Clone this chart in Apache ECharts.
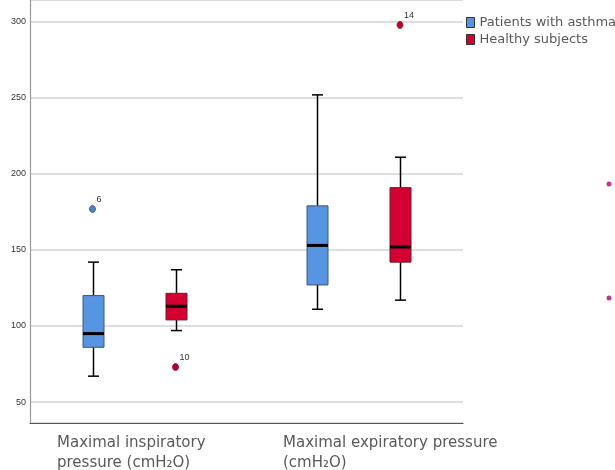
<!DOCTYPE html>
<html>
<head>
<meta charset="utf-8">
<script src="https://cdn.jsdelivr.net/npm/echarts@6/dist/echarts.min.js"></script>
<style>html,body{margin:0;padding:0;background:#fff;}#chart{width:615px;height:470px;}</style>
</head>
<body>
<div id="chart"></div>
<script>
// ---- data ----
const categories = ['Maximal inspiratory\npressure (cmH\u2082O)', 'Maximal expiratory pressure\n(cmH\u2082O)'];
const seriesNames = ['Patients with asthma', 'Healthy subjects'];
// [min, Q1, median, Q3, max]
const asthmaBoxes = [[67, 86, 95, 120, 142], [111, 127, 153, 179, 252]];
const healthyBoxes = [[97, 104, 113, 121.5, 137], [117, 142, 152, 191, 211]];
// [category index, value, case label]
const asthmaOutliers = [[0, 177, '6']];
const healthyOutliers = [[0, 73, '10'], [1, 298, '14']];
const yTicks = [50, 100, 150, 200, 250, 300];

// ---- styles ----
const BOX_W = 21, CAP_W = 11, OFFSET = 41.5;
const colors = {
  asthma: { fill: '#5794e2', border: '#3d5877', outFill: '#4a82cc', outBorder: '#2d4f80' },
  healthy: { fill: '#d40032', border: '#6e1a28', outFill: '#b8002d', outBorder: '#7a1025' }
};

function boxRenderer(offset, c) {
  return function (params, api) {
    const x = api.value(0);
    const lo = api.coord([x, api.value(1)]);
    const q1 = api.coord([x, api.value(2)]);
    const md = api.coord([x, api.value(3)]);
    const q3 = api.coord([x, api.value(4)]);
    const hi = api.coord([x, api.value(5)]);
    const cx = Math.round(lo[0] + offset) + 0.5;
    const ws = { stroke: '#000', lineWidth: 1.5 };
    return {
      type: 'group',
      children: [
        { type: 'line', shape: { x1: cx, y1: hi[1], x2: cx, y2: q3[1] }, style: ws },
        { type: 'line', shape: { x1: cx, y1: q1[1], x2: cx, y2: lo[1] }, style: ws },
        { type: 'line', shape: { x1: cx - CAP_W / 2, y1: hi[1], x2: cx + CAP_W / 2, y2: hi[1] }, style: ws },
        { type: 'line', shape: { x1: cx - CAP_W / 2, y1: lo[1], x2: cx + CAP_W / 2, y2: lo[1] }, style: ws },
        { type: 'rect', shape: { x: cx - BOX_W / 2, y: q3[1], width: BOX_W, height: q1[1] - q3[1] },
          style: { fill: c.fill, stroke: c.border, lineWidth: 1 } },
        { type: 'line', shape: { x1: cx - BOX_W / 2, y1: md[1], x2: cx + BOX_W / 2, y2: md[1] },
          style: { stroke: '#000', lineWidth: 3 } }
      ]
    };
  };
}

function outlierRenderer(offset, c) {
  return function (params, api) {
    const p = api.coord([api.value(0), api.value(1)]);
    const cx = p[0] + offset;
    return {
      type: 'group',
      children: [
        { type: 'ellipse', shape: { cx: cx, cy: p[1], rx: 3, ry: 3.5 },
          style: { fill: c.outFill, stroke: c.outBorder, lineWidth: 0.8 } },
        { type: 'text', x: cx + 4, y: p[1] - 14,
          style: { text: api.value(2), fontSize: 9, fontFamily: 'Liberation Sans', fill: '#333' } }
      ]
    };
  };
}

const chart = echarts.init(document.getElementById('chart'), null, { renderer: 'canvas' });
const option = {
  backgroundColor: '#fff',
  animation: false,
  grid: { left: 30, right: 152, top: -1, bottom: 47 },
  xAxis: {
    type: 'value', min: -0.4633, max: 1.4654, z: 5,
    axisLine: { show: true, onZero: false, lineStyle: { color: '#555', width: 1.2 } },
    axisTick: { show: false }, axisLabel: { show: false }, splitLine: { show: false }
  },
  yAxis: {
    type: 'value', min: 36.2, max: 314.4,
    axisLine: { show: true, onZero: false, lineStyle: { color: '#999', width: 1.2 } },
    axisTick: { show: false },
    axisLabel: {
      fontSize: 9, fontFamily: 'Liberation Sans', color: '#333', margin: 4,
      showMinLabel: false, showMaxLabel: false,
      formatter: v => (yTicks.indexOf(v) >= 0 ? String(v) : '')
    },
    splitLine: { show: true, lineStyle: { color: '#d3d3d3', width: 1.5 } }
  },
  legend: {
    orient: 'vertical', left: 466, top: 16, padding: 0, itemWidth: 8, itemHeight: 10, itemGap: 4,
    icon: 'rect',
    textStyle: { fontSize: 13, fontFamily: 'DejaVu Sans', color: '#595959' },
    data: [
      { name: seriesNames[0], itemStyle: { color: colors.asthma.fill, borderColor: '#333', borderWidth: 1 } },
      { name: seriesNames[1], itemStyle: { color: colors.healthy.fill, borderColor: '#333', borderWidth: 1 } }
    ]
  },
  series: [
    {
      name: seriesNames[0], type: 'custom', renderItem: boxRenderer(-OFFSET, colors.asthma),
      itemStyle: { color: colors.asthma.fill },
      encode: { x: 0, y: [1, 2, 3, 4, 5] },
      data: asthmaBoxes.map((d, i) => [i].concat(d))
    },
    {
      name: seriesNames[1], type: 'custom', renderItem: boxRenderer(OFFSET, colors.healthy),
      itemStyle: { color: colors.healthy.fill },
      encode: { x: 0, y: [1, 2, 3, 4, 5] },
      data: healthyBoxes.map((d, i) => [i].concat(d))
    },
    {
      name: seriesNames[0], type: 'custom', renderItem: outlierRenderer(-OFFSET, colors.asthma),
      itemStyle: { color: colors.asthma.fill },
      encode: { x: 0, y: 1 },
      dimensions: ['x', 'y', { name: 'label', type: 'ordinal' }],
      data: asthmaOutliers
    },
    {
      name: seriesNames[1], type: 'custom', renderItem: outlierRenderer(OFFSET, colors.healthy),
      itemStyle: { color: colors.healthy.fill },
      encode: { x: 0, y: 1 },
      dimensions: ['x', 'y', { name: 'label', type: 'ordinal' }],
      data: healthyOutliers
    }
  ],
  graphic: [
    { type: 'text', left: 57, top: 433,
      style: { text: categories[0], fontSize: 15, lineHeight: 20, fontFamily: 'DejaVu Sans', fill: '#595959' } },
    { type: 'text', left: 283, top: 433,
      style: { text: categories[1], fontSize: 15, lineHeight: 20, fontFamily: 'DejaVu Sans', fill: '#595959' } },
    { type: 'circle', shape: { cx: 609, cy: 184, r: 2.5 }, style: { fill: '#c8309a' } },
    { type: 'circle', shape: { cx: 609, cy: 298, r: 2.5 }, style: { fill: '#c8309a' } }
  ]
};
chart.setOption(option);
</script>
</body>
</html>
